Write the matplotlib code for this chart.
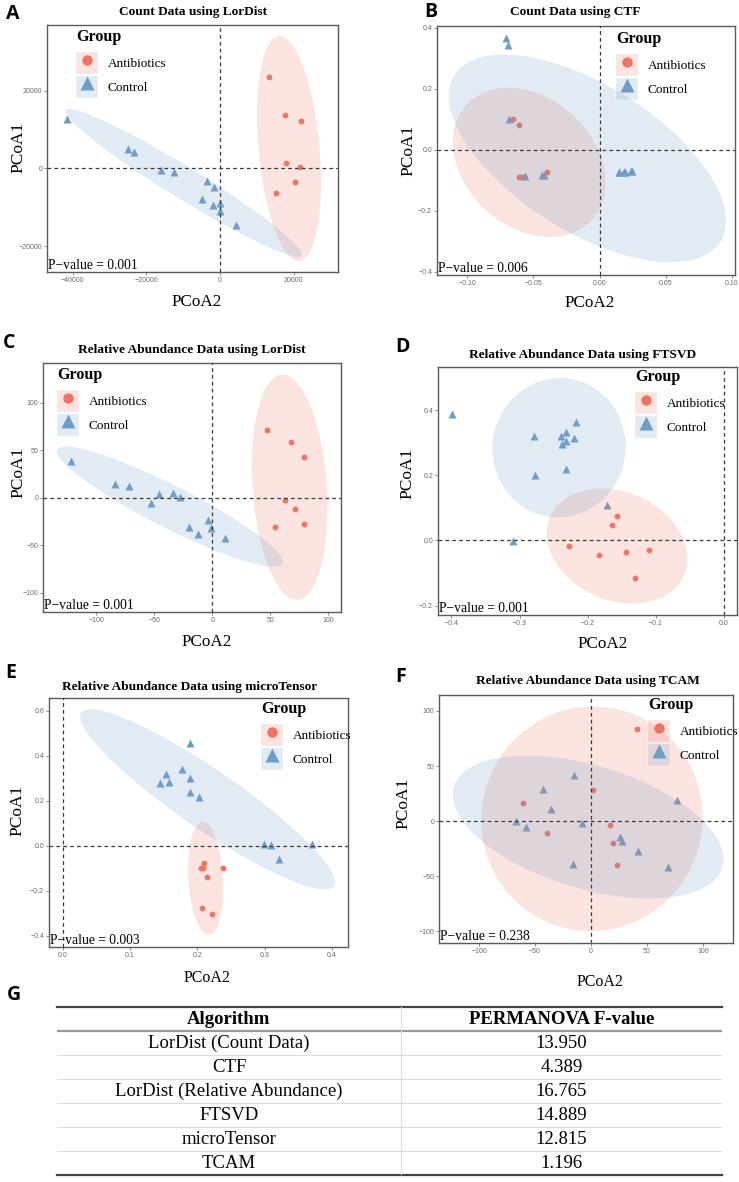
import numpy as np
import matplotlib
matplotlib.use("Agg")
import matplotlib.pyplot as plt
from matplotlib.patches import Patch
from matplotlib.lines import Line2D
from matplotlib.ticker import FuncFormatter

# ---- data ----
A_anti_x = [13400, 17700, 21900, 17900, 21700, 20400, 15100]
A_anti_y = [23600, 13900, 12200, 1500, 500, -3600, -6300]
A_ctrl_x = [-41500, -25100, -23300, -16000, -12600, -3500, -1700, -4800, -2000, 0, 0, 4200]
A_ctrl_y = [12800, 5100, 4300, -300, -1000, -3300, -4800, -7800, -9400, -8800, -10900, -14500]

# CTF: several control samples sit on top of each other in the right-hand cluster
B_anti_x = [-0.0655, -0.0612, -0.0612, -0.0594, -0.0579, -0.0400, 0.0186]
B_anti_y = [0.100, 0.082, -0.090, -0.090, -0.088, -0.074, -0.077]
B_ctrl_x = [-0.0705, -0.0693, -0.0685, -0.0567, -0.0436, -0.0418,
            0.0144, 0.0186, 0.0242, 0.0150, 0.0190, 0.0235]
B_ctrl_y = [0.366, 0.344, 0.102, -0.086, -0.082, -0.082,
            -0.073, -0.073, -0.070, -0.074, -0.074, -0.071]

C_anti_x = [46.9, 67.3, 78.6, 62.2, 70.8, 54.1, 79.1]
C_anti_y = [71.1, 58.8, 43.1, -2.1, -11.9, -31.2, -27.3]
C_ctrl_x = [-121.4, -84.0, -71.7, -52.9, -45.8, -33.7, -27.9, -20.1, -12.7, -4.0, -1.2, 11.2]
C_ctrl_y = [38.5, 14.0, 12.3, -5.6, 4.2, 4.9, 0.7, -30.8, -38.2, -23.8, -31.5, -42.0]

D_anti_x = [-0.1567, -0.164, -0.2272, -0.1831, -0.1439, -0.1106, -0.1302]
D_anti_y = [0.074, 0.047, -0.0175, -0.045, -0.036, -0.030, -0.114]
D_ctrl_x = [-0.3995, -0.2786, -0.2771, -0.2399, -0.2316, -0.2379, -0.2316, -0.2179, -0.2198, -0.2321, -0.1718, -0.3099]
D_ctrl_y = [0.388, 0.3195, 0.200, 0.3195, 0.333, 0.296, 0.306, 0.3627, 0.314, 0.220, 0.109, -0.003]

E_anti_x = [0.210, 0.205, 0.209, 0.238, 0.214, 0.207, 0.222]
E_anti_y = [-0.076, -0.101, -0.101, -0.098, -0.140, -0.275, -0.303]
E_ctrl_x = [0.1886, 0.1777, 0.153, 0.144, 0.158, 0.189, 0.189, 0.203, 0.2985, 0.310, 0.3208, 0.370]
E_ctrl_y = [0.456, 0.342, 0.321, 0.281, 0.285, 0.300, 0.241, 0.217, 0.010, 0.0015, -0.058, 0.010]

F_anti_x = [41.2, 1.5, -60.9, -39.4, 17.0, 19.7, 23.6]
F_anti_y = [84.0, 28.7, 16.9, -10.9, -3.6, -19.9, -39.9]
F_ctrl_x = [-15.5, -43.3, -36.1, -67.2, -58.2, -8.4, -16.4, 25.7, 28.1, 41.8, 68.4, 77.3]
F_ctrl_y = [42.3, 29.0, 10.9, 0.0, -5.4, -1.5, -39.3, -14.8, -18.4, -27.5, -41.7, 19.3]

titles = ["Count Data using LorDist", "Count Data using CTF",
          "Relative Abundance Data using LorDist", "Relative Abundance Data using FTSVD",
          "Relative Abundance Data using microTensor", "Relative Abundance Data using TCAM"]
pvalues = ["0.001", "0.006", "0.001", "0.001", "0.003", "0.238"]

algorithms = ["LorDist (Count Data)", "CTF", "LorDist (Relative Abundance)",
              "FTSVD", "microTensor", "TCAM"]
f_values = ["13.950", "4.389", "16.765", "14.889", "12.815", "1.196"]

RED = "#EE7566"
BLUE = "#6E9DC8"
SERIF = "Liberation Serif"
SANS = "Liberation Sans"

W, H = 739, 1182


def rect(l, t, r, b):
    return [l / W, 1 - b / H, (r - l) / W, (b - t) / H]


def cov_trob(x, nu=5, maxit=25, tol=0.01):
    # same iteration as MASS::cov.trob (used by ggplot's stat_ellipse)
    n, p = x.shape
    wt = np.ones(n)
    loc = x.mean(axis=0)
    w = np.sqrt(wt)
    for _ in range(maxit):
        w0 = w
        X = x - loc
        _, d, vt = np.linalg.svd(np.sqrt(w / w.sum())[:, None] * X, full_matrices=False)
        wX = X @ vt.T @ np.diag(1 / d)
        Q = (wX ** 2).sum(axis=1)
        w = wt * (nu + p) / (nu + Q)
        loc = (w[:, None] * x).sum(axis=0) / w.sum()
        if np.all(np.abs(w - w0) < tol):
            break
    sX = np.sqrt(w)[:, None] * X
    return loc, sX.T @ sX / wt.sum()


def ellipse(xs, ys, level=0.95, segments=51):
    pts = np.column_stack([xs, ys]).astype(float)
    center, shape = cov_trob(pts)
    dfd = len(pts) - 1
    # qf(level, 2, dfd) in closed form
    fq = dfd / 2 * ((1 - level) ** (-2 / dfd) - 1)
    radius = np.sqrt(2 * fq)
    R = np.linalg.cholesky(shape).T
    t = np.linspace(0, 2 * np.pi, segments + 1)
    circ = np.column_stack([np.cos(t), np.sin(t)])
    e = center + radius * circ @ R
    return e[:, 0], e[:, 1]


def fmt(decimals):
    return FuncFormatter(lambda v, pos: f"{v:.{decimals}f}".replace("-", "\u2212"))


fig = plt.figure(figsize=(W / 100, H / 100), dpi=100)

panels = [
    dict(data=(A_anti_x, A_anti_y, A_ctrl_x, A_ctrl_y), box=(47, 25, 338, 272),
         xlim=(-47000, 32000), ylim=(-26700, 37000),
         xt=[-40000, -20000, 0, 20000], yt=[-20000, 0, 20000], dec=0,
         letter=(6, 4, "A"), title=(193, 12), ylab=(18, 147), xlab=(197, 302), leg=(76, 29)),
    dict(data=(B_anti_x, B_anti_y, B_ctrl_x, B_ctrl_y), box=(437, 26, 735, 275),
         xlim=(-0.123, 0.1025), ylim=(-0.41, 0.405),
         xt=[-0.10, -0.05, 0.0, 0.05, 0.10], yt=[-0.4, -0.2, 0.0, 0.2, 0.4], dec=(2, 1),
         letter=(424, 2, "B"), title=(575, 12), ylab=(408, 150), xlab=(590, 303), leg=(616, 31)),
    dict(data=(C_anti_x, C_anti_y, C_ctrl_x, C_ctrl_y), box=(43, 363, 341, 612),
         xlim=(-145.9, 110.8), ylim=(-120.1, 141.5),
         xt=[-100, -50, 0, 50, 100], yt=[-100, -50, 0, 50, 100], dec=0,
         letter=(3, 333, "C"), title=(192, 350), ylab=(18, 472), xlab=(207, 642), leg=(57, 367)),
    dict(data=(D_anti_x, D_anti_y, D_ctrl_x, D_ctrl_y), box=(438, 367, 737, 615),
         xlim=(-0.4196, 0.019), ylim=(-0.229, 0.533),
         xt=[-0.4, -0.3, -0.2, -0.1, 0.0], yt=[-0.2, 0.0, 0.2, 0.4], dec=1,
         letter=(395, 337, "D"), title=(583, 355), ylab=(407, 473), xlab=(603, 644), leg=(635, 369)),
    dict(data=(E_anti_x, E_anti_y, E_ctrl_x, E_ctrl_y), box=(49, 698, 348, 947),
         xlim=(-0.0203, 0.4238), ylim=(-0.45, 0.657),
         xt=[0.0, 0.1, 0.2, 0.3, 0.4], yt=[-0.4, -0.2, 0.0, 0.2, 0.4, 0.6], dec=1,
         letter=(5, 663, "E"), title=(190, 687), ylab=(17, 810), xlab=(207, 978), leg=(261, 701)),
    dict(data=(F_anti_x, F_anti_y, F_ctrl_x, F_ctrl_y), box=(439, 695, 733, 943),
         xlim=(-135.8, 126.9), ylim=(-110.6, 114.5),
         xt=[-100, -50, 0, 50, 100], yt=[-100, -50, 0, 50, 100], dec=0,
         letter=(395, 667, "F"), title=(588, 681), ylab=(403, 803), xlab=(600, 982), leg=(648, 697)),
]

for i, p in enumerate(panels):
    ax = fig.add_axes(rect(*p["box"]))
    ax_, ay_, cx_, cy_ = p["data"]
    ax.plot(ax_, ay_, "o", color=RED, ms=4.2, mec="none", zorder=2)
    ax.plot(cx_, cy_, "^", color=BLUE, ms=5.2, mec="none", zorder=2)
    ex, ey = ellipse(ax_, ay_)
    ax.fill(ex, ey, color=RED, alpha=0.2, lw=0, zorder=3)
    ex, ey = ellipse(cx_, cy_)
    ax.fill(ex, ey, color=BLUE, alpha=0.2, lw=0, zorder=3)
    ax.axhline(0, color="#3a3a3a", lw=0.9, ls=(0, (3, 2.5)), zorder=4)
    ax.axvline(0, color="#3a3a3a", lw=0.9, ls=(0, (3, 2.5)), zorder=4)
    ax.set_xlim(*p["xlim"])
    ax.set_ylim(*p["ylim"])
    ax.set_xticks(p["xt"])
    ax.set_yticks(p["yt"])
    dec = p["dec"]
    dx, dy = dec if isinstance(dec, tuple) else (dec, dec)
    ax.xaxis.set_major_formatter(fmt(dx))
    ax.yaxis.set_major_formatter(fmt(dy))
    ax.tick_params(labelsize=5, labelcolor="#6a6a6a", color="#777777", length=2, width=0.6, pad=1.5)
    for lab in ax.get_xticklabels() + ax.get_yticklabels():
        lab.set_fontfamily(SANS)
    for s in ax.spines.values():
        s.set_color("#5a5a5a")
        s.set_linewidth(1.0)
    ax.text(0.004, 0.0, "P\u2212value = " + pvalues[i], transform=ax.transAxes,
            ha="left", va="bottom", fontsize=9.8, family=SERIF, zorder=5)

    lx, ly, letter = p["letter"]
    fig.text(lx / W, 1 - ly / H, letter, fontsize=14, fontweight="bold",
             family=["Open Sans", "DejaVu Sans"], ha="left", va="top")
    tx, ty = p["title"]
    fig.text(tx / W, 1 - ty / H, titles[i], fontsize=9.6, fontweight="bold",
             family=SERIF, ha="center", va="center")
    yx, yy = p["ylab"]
    fig.text(yx / W, 1 - yy / H, "PCoA1", fontsize=12.5, family=SERIF,
             rotation=90, ha="center", va="center")
    xx, xy = p["xlab"]
    fig.text(xx / W, 1 - xy / H, "PCoA2", fontsize=12.3 if i < 4 else 11.5, family=SERIF,
             ha="center", va="center")

    handles = [(Patch(fc=RED, alpha=0.2, ec="white", lw=1.2),
                Line2D([], [], marker="o", ls="", color=RED, ms=7.5, mec="none")),
               (Patch(fc=BLUE, alpha=0.2, ec="white", lw=1.2),
                Line2D([], [], marker="^", ls="", color=BLUE, ms=9.5, mec="none"))]
    gx, gy = p["leg"]
    leg = ax.legend(handles, ["Antibiotics", "Control"], title="Group",
                    loc="upper left", bbox_to_anchor=(gx / W, 1 - gy / H),
                    bbox_transform=fig.transFigure, frameon=False,
                    prop={"family": SERIF, "size": 9.5},
                    title_fontproperties={"family": SERIF, "weight": "bold", "size": 11.5},
                    handlelength=1.7, handleheight=2.2, labelspacing=0.12,
                    handletextpad=0.7, borderpad=0, borderaxespad=0, alignment="left")
    leg._legend_box.sep = 5
    leg.set_zorder(6)

# ---- table (panel G) ----
fig.text(7 / W, 1 - 985 / H, "G", fontsize=14, fontweight="bold",
         family=["Open Sans", "DejaVu Sans"], ha="left", va="top")
tab = fig.add_axes(rect(57, 1007, 722, 1175))
tab.set_xlim(0, 1)
tab.set_ylim(len(algorithms) + 1, 0)
tab.axis("off")
div = (401 - 57) / (722 - 57)
c1 = div / 2
c2 = (div + 1) / 2
tab.text(c1, 0.5, "Algorithm", ha="center", va="center", fontsize=13.5,
         fontweight="bold", family=SERIF)
tab.text(c2, 0.5, "PERMANOVA F-value", ha="center", va="center", fontsize=13.5,
         fontweight="bold", family=SERIF)
for r, (alg, fv) in enumerate(zip(algorithms, f_values)):
    tab.text(c1, r + 1.5, alg, ha="center", va="center", fontsize=13.5, family=SERIF)
    tab.text(c2, r + 1.5, fv, ha="center", va="center", fontsize=13.5, family=SERIF)
for r in range(2, len(algorithms) + 1):
    tab.axhline(r, color="#dddddd", lw=0.8)
tab.axhline(0, color="#444444", lw=1.6, clip_on=False)
tab.axhline(1, color="#999999", lw=1.6)
tab.axhline(len(algorithms) + 1, color="#444444", lw=1.6, clip_on=False)
tab.axvline(div, color="#dddddd", lw=0.8)

fig.savefig("out.png", dpi=100)
